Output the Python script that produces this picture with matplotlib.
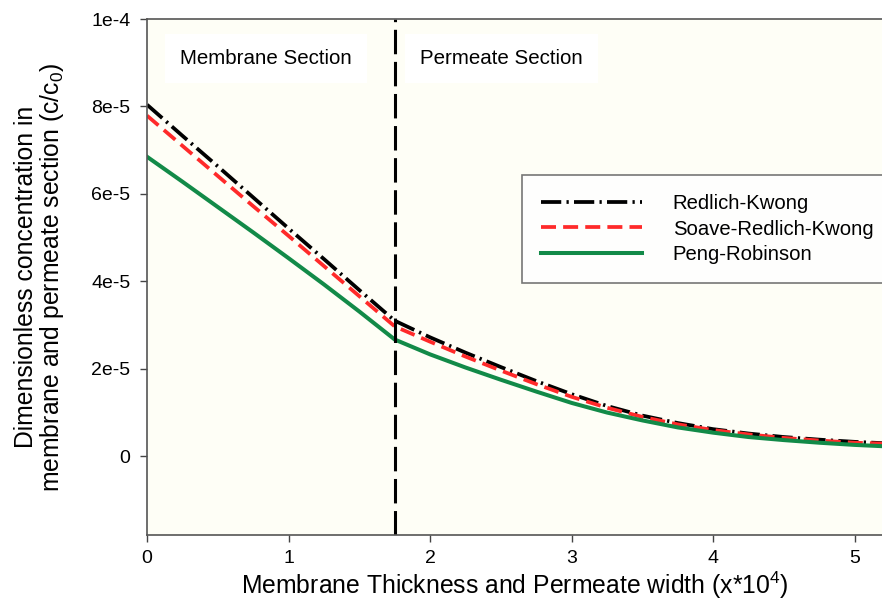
import numpy as np
import matplotlib
matplotlib.use("Agg")
import matplotlib.pyplot as plt

plt.rcParams['font.family'] = ['Liberation Sans', 'DejaVu Sans']
plt.rcParams['mathtext.default'] = 'regular'

# positions along membrane + permeate (x*10^4)
x_pos = [0.0, 0.25, 0.5, 0.75, 1.0, 1.25, 1.5, 1.75, 2.0, 2.25, 2.5, 2.75, 3.0,
         3.25, 3.5, 3.75, 4.0, 4.25, 4.5, 4.75, 5.0, 5.2]

# concentrations, in units of 1e-5
redlich_kwong = [8.04, 7.33, 6.63, 5.92, 5.21, 4.51, 3.80, 3.10, 2.72, 2.37, 2.04,
                 1.72, 1.42, 1.15, 0.93, 0.76, 0.62, 0.52, 0.44, 0.38, 0.33, 0.30]
soave_rk = [7.79, 7.10, 6.41, 5.72, 5.04, 4.35, 3.66, 2.97, 2.62, 2.28, 1.96,
            1.65, 1.36, 1.11, 0.90, 0.73, 0.60, 0.50, 0.42, 0.36, 0.31, 0.29]
peng_robinson = [6.85, 6.28, 5.70, 5.12, 4.53, 3.93, 3.31, 2.67, 2.33, 2.03, 1.75,
                 1.48, 1.22, 1.00, 0.82, 0.66, 0.54, 0.44, 0.37, 0.31, 0.26, 0.23]

series_names = ["Redlich-Kwong", "Soave-Redlich-Kwong", "Peng-Robinson"]
boundary = 1.75

x_ticks = [0, 1, 2, 3, 4, 5]
y_ticks = [0, 2e-5, 4e-5, 6e-5, 8e-5, 1e-4]
y_tick_labels = ["0", "2e-5", "4e-5", "6e-5", "8e-5", "1e-4"]

fig = plt.figure(figsize=(8.82, 6.11), dpi=100)
ax = fig.add_axes([0.1667, 0.1244, 0.8345, 0.8445])
ax.set_facecolor('#fefef6')

scale = 1e-5
ax.plot(x_pos, np.array(redlich_kwong) * scale, color='black', lw=2.7,
        dashes=(5.4, 1.4, 0.6, 1.4), label=series_names[0])
ax.plot(x_pos, np.array(soave_rk) * scale, color='#ff2a2a', lw=2.7,
        dashes=(4.0, 1.9), label=series_names[1])
ax.plot(x_pos, np.array(peng_robinson) * scale, color='#128a48', lw=2.9,
        label=series_names[2])

ax.axvline(boundary, color='black', lw=2.2, dashes=(8, 2.5))

ax.set_xlim(0, 5.2)
ax.set_ylim(-1.8e-5, 1e-4)
ax.set_xticks(x_ticks)
ax.set_yticks(y_ticks)
ax.set_yticklabels(y_tick_labels)
ax.tick_params(direction='out', length=5, width=1, color='#444444',
               labelsize=14)
ax.tick_params(axis='x', pad=6)
ax.tick_params(axis='y', pad=7)

for side in ['left', 'bottom', 'top']:
    ax.spines[side].set_color('#555555')
    ax.spines[side].set_linewidth(1.2)
ax.spines['right'].set_visible(False)

ax.text(0.233, 9.1e-5, "Membrane Section", fontsize=14.8, va='center',
        bbox=dict(facecolor='white', edgecolor='none', pad=11))
ax.text(1.93, 9.1e-5, "Permeate Section", fontsize=14.8, va='center',
        bbox=dict(facecolor='white', edgecolor='none', pad=11))

ax.set_xlabel("Membrane Thickness and Permeate width (x*10$^4$)", fontsize=17.8)
ax.xaxis.set_label_coords(0.5, -0.068)
ax.set_ylabel("Dimensionless concentration in\nmembrane and permeate section (c/c$_0$)",
              fontsize=17.8, linespacing=1.0)
ax.yaxis.set_label_coords(-0.11, 0.5)

leg = ax.legend(loc='upper left', bbox_to_anchor=(0.509, 0.698), fontsize=14.6,
                handlelength=5.0, handletextpad=1.5, labelspacing=0.32,
                frameon=True, fancybox=False, borderpad=0.95,
                borderaxespad=0)
leg.get_frame().set_edgecolor('#555555')
leg.get_frame().set_linewidth(1.2)

fig.savefig("out.png", dpi=100)
